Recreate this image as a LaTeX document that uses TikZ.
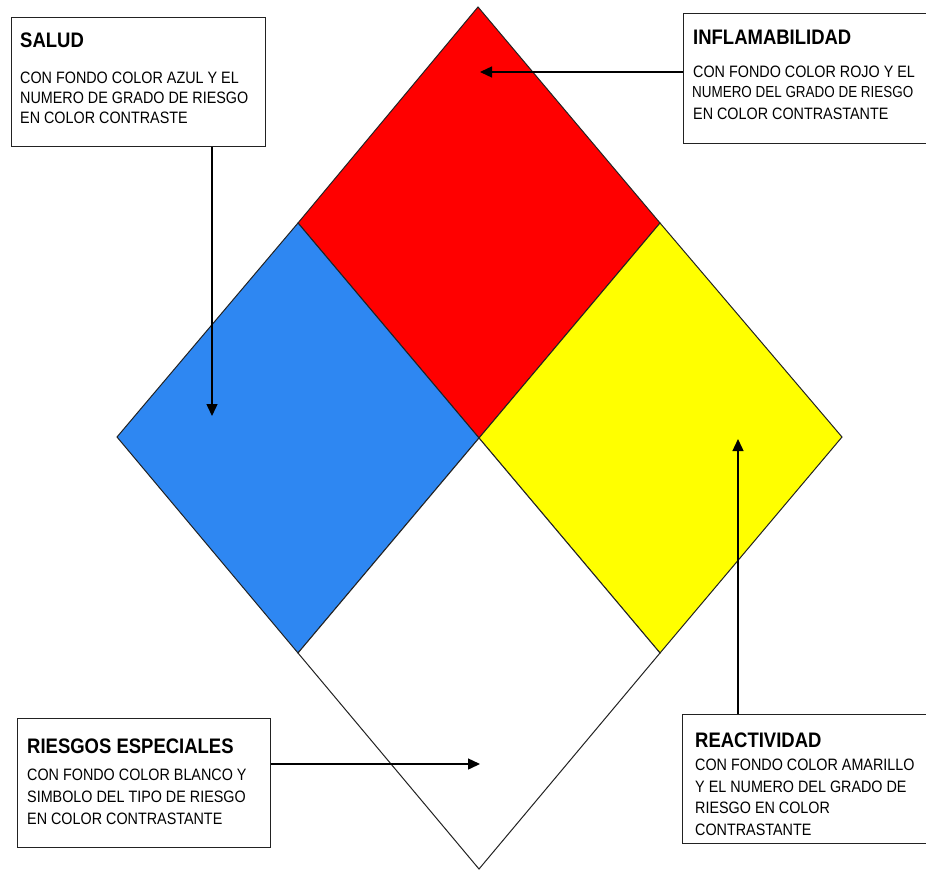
\documentclass[tikz,border=0pt]{standalone}
\usepackage{fontspec}
\setmainfont{Liberation Sans}
\newfontfamily\bodyf[FakeStretch=0.87]{Liberation Sans}
\newfontfamily\bodyn[FakeStretch=0.84]{Liberation Sans}
\newfontfamily\titlef[FakeStretch=0.88]{Liberation Sans Bold}
\usetikzlibrary{arrows.meta}
\definecolor{nfpared}{HTML}{FF0000}
\definecolor{nfpablue}{HTML}{2E87F2}
\definecolor{nfpayellow}{HTML}{FFFF00}
\definecolor{edge}{HTML}{222222}
\tikzset{
  infobox/.style={draw=edge, line width=1.3pt, fill=white, inner sep=0pt, anchor=north west},
  ttl/.style={anchor=base west, inner sep=0pt, font=\titlef\fontsize{21}{21}\selectfont},
  txt/.style={anchor=base west, inner sep=0pt, font=\bodyf\fontsize{16.5}{16.5}\selectfont},
  arr/.style={draw=black, line width=1.4pt, -{Triangle[length=12pt,width=11pt]}},
  region/.style={draw=edge, line width=1pt, line join=miter}
}
\begin{document}
\begin{tikzpicture}[x=1pt,y=-1pt]
\useasboundingbox (0,0) rectangle (926,873);
% diamond corner coordinates
\coordinate (T) at (478,7);
\coordinate (L) at (117,437);
\coordinate (R) at (842,437);
\coordinate (B) at (479,869);
\coordinate (C) at (479,438);
\coordinate (TL) at (298,223);
\coordinate (TR) at (660,223);
\coordinate (BL) at (298,653);
\coordinate (BR) at (660,653);
% quadrants
\path[region, fill=nfpared] (T) -- (TR) -- (C) -- (TL) -- cycle;
\path[region, fill=nfpablue] (TL) -- (C) -- (BL) -- (L) -- cycle;
\path[region, fill=nfpayellow] (TR) -- (R) -- (BR) -- (C) -- cycle;
\path[region, fill=white] (C) -- (BR) -- (B) -- (BL) -- cycle;
% arrow targets
\coordinate (saltip) at (212,416);
\coordinate (inftip) at (480,72);
\coordinate (riestip) at (480,764);
\coordinate (reactip) at (738,439);
% boxes
\node[infobox, minimum width=254pt, minimum height=129pt] (salud) at (11,17) {};
\node[infobox, minimum width=250pt, minimum height=130pt] (inflam) at (683,13) {};
\node[infobox, minimum width=253pt, minimum height=129pt] (riesgos) at (17,718) {};
\node[infobox, minimum width=250pt, minimum height=129pt] (react) at (682,714) {};
% connectors
\draw[arr] (saltip |- salud.south) -- (saltip);
\draw[arr] (inflam.west |- inftip) -- (inftip);
\draw[arr] (riesgos.east |- riestip) -- (riestip);
\draw[arr] (reactip |- react.north) -- (reactip);
% SALUD text
\node[ttl] (salT) at (20,47) {SALUD};
\node[txt] (sal1) at (20,83) {CON FONDO COLOR AZUL Y EL};
\node[txt] (sal2) at (20,103) {NUMERO DE GRADO DE RIESGO};
\node[txt] (sal3) at (20,123) {EN COLOR CONTRASTE};
% INFLAMABILIDAD text
\node[ttl] (infT) at (693,44) {INFLAMABILIDAD};
\node[txt] (inf1) at (693,77) {CON FONDO COLOR ROJO Y EL};
\node[txt, font=\bodyn\fontsize{16}{16}\selectfont] (inf2) at (692,97) {NUMERO DEL GRADO DE RIESGO};
\node[txt] (inf3) at (693,119) {EN COLOR CONTRASTANTE};
% RIESGOS ESPECIALES text
\node[ttl] (rieT) at (27,753) {RIESGOS ESPECIALES};
\node[txt] (rie1) at (27,780) {CON FONDO COLOR BLANCO Y};
\node[txt] (rie2) at (27,802) {SIMBOLO DEL TIPO DE RIESGO};
\node[txt] (rie3) at (27,824) {EN COLOR CONTRASTANTE};
% REACTIVIDAD text
\node[ttl] (reaT) at (695,747) {REACTIVIDAD};
\node[txt] (rea1) at (695,770) {CON FONDO COLOR AMARILLO};
\node[txt] (rea2) at (695,792) {Y EL NUMERO DEL GRADO DE};
\node[txt] (rea3) at (695,813) {RIESGO EN COLOR};
\node[txt] (rea4) at (695,835) {CONTRASTANTE};
\end{tikzpicture}
\end{document}
